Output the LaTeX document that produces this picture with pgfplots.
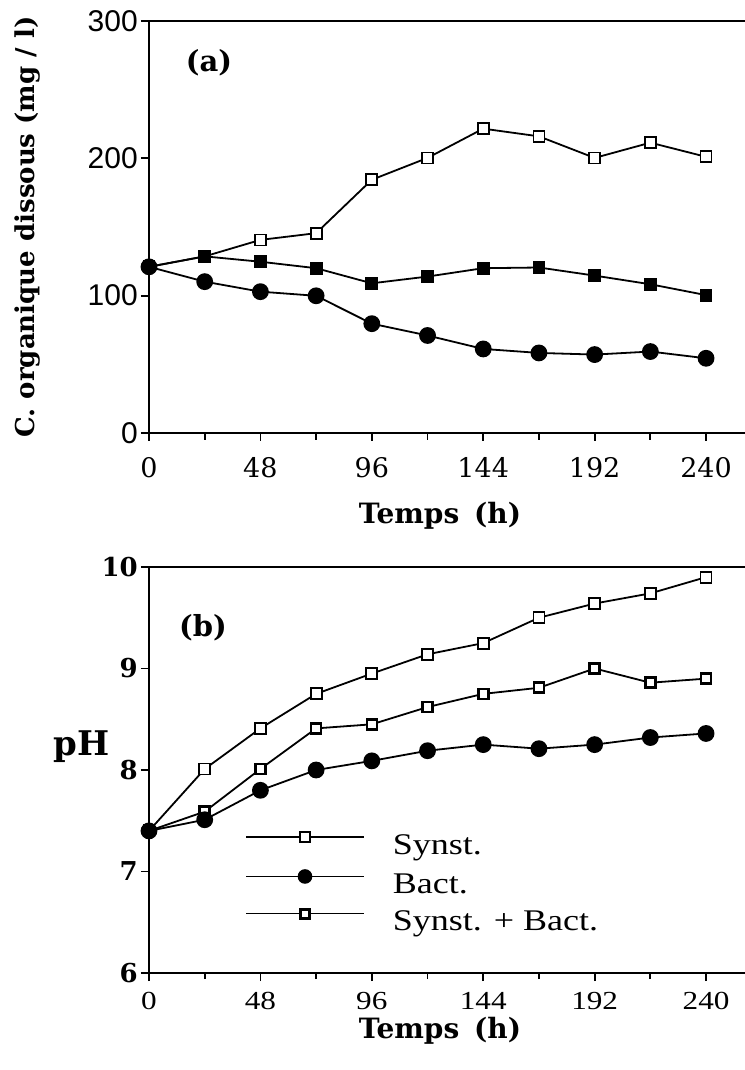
\documentclass[border=0pt]{standalone}
\usepackage{fontspec}
\usepackage{pgfplots}
\pgfplotsset{compat=1.18}
\setmainfont{DejaVu Serif}
\newfontfamily\tim[FakeStretch=1.2]{Liberation Serif}
\newfontfamily\hel{Liberation Sans}
\newcommand\fs[1]{\fontsize{#1}{#1}\selectfont}

\pgfplotsset{
  base/.style={
    scale only axis, width=600pt, xmin=0, xmax=258.5,
    xtick={0,48,...,240}, minor xtick={24,72,...,216},
    xtick pos=bottom, ytick pos=left,
    tick align=outside,
    major tick length=8pt, minor tick length=7pt,
    every tick/.append style={black, line width=1.8pt},
    axis line style={line width=2pt},
    clip=false,
    /pgf/number format/assume math mode=true,
    every axis plot/.append style={line width=1.8pt, black},
    legend image code/.code={\draw[mark repeat=2, mark phase=2, yshift=8pt, ##1] plot coordinates {(0pt,0pt) (59pt,0pt) (118pt,0pt)};},
  },
  synst/.style={mark=square*, mark size=5.5pt, mark options={fill=white, solid}},
  bact/.style={mark=*, mark size=7.5pt, mark options={fill=black, solid}},
  sba/.style={mark=square*, mark size=5.5pt, mark options={fill=black, solid}},
  sbb/.style={mark=square*, mark size=5pt, mark options={fill=white, line width=2.6pt, solid}},
}

\begin{document}
\begin{tikzpicture}
\useasboundingbox (0,0) rectangle (744pt,1070pt);

% ---------------- panel (a)
\begin{axis}[base, at={(149pt,637pt)}, anchor=south west, height=412pt,
  ymin=0, ymax=300, ytick={0,100,200,300},
  yticklabel style={font=\hel\fs{30}, inner sep=3pt},
  xticklabel style={font=\fs{27}, inner sep=3pt, yshift=-13pt},
  xlabel={Temps\hspace{15pt}(h)},
  xlabel style={font=\bfseries\fs{28}, at={(axis description cs:0.485,-0.2)}, anchor=center},
  ylabel={C. organique dissous (mg / l)},
  ylabel style={font=\bfseries\fs{26}, at={(axis description cs:-0.2017,0.5)}, anchor=center},
]
\addplot[synst] coordinates {(0,121) (24,128.6) (48,140.6) (72,145.5) (96,184.4) (120,200.3) (144,221.6) (168,216) (192,200.3) (216,211.4) (240,201.1)};
\addplot[sba] coordinates {(0,121) (24,128.6) (48,124.7) (72,120) (96,109) (120,113.9) (144,120) (168,120.5) (192,114.6) (216,108.3) (240,100.4)};
\addplot[bact] coordinates {(0,121) (24,110.2) (48,102.9) (72,99.9) (96,79.6) (120,71) (144,61.2) (168,58.3) (192,57.1) (216,59.3) (240,54.4)};
\node[font=\bfseries\fs{29}] at (axis description cs:0.1,0.898) {(a)};
\end{axis}

% ---------------- panel (b)
\begin{axis}[base, at={(149pt,97pt)}, anchor=south west, height=406pt,
  ymin=6, ymax=10, ytick={6,7,8,9,10},
  minor tick length=6pt,
  yticklabel style={font=\bfseries\fs{26}, inner sep=3pt},
  xticklabel style={font=\tim\fs{26}, inner sep=3pt, yshift=-8pt},
  xlabel={Temps\hspace{15pt}(h)},
  xlabel style={font=\bfseries\fs{28}, at={(axis description cs:0.485,-0.142)}, anchor=center},
  ylabel={pH},
  ylabel style={rotate=-90, font=\bfseries\fs{34}, at={(axis description cs:-0.113,0.557)}, anchor=center},
  legend style={at={(axis description cs:0.155,0.352)}, anchor=north west, draw=none, fill=none,
    font=\tim\fs{30}, row sep=12pt, cells={anchor=west},
    /tikz/every odd column/.append style={column sep=26pt}},
]
\addplot[synst, forget plot] coordinates {(0,7.4) (24,8.01) (48,8.41) (72,8.75) (96,8.95) (120,9.14) (144,9.25) (168,9.5) (192,9.64) (216,9.74) (240,9.9)};
\addplot[sbb, forget plot] coordinates {(0,7.4) (24,7.59) (48,8.01) (72,8.41) (96,8.45) (120,8.62) (144,8.75) (168,8.81) (192,9.0) (216,8.86) (240,8.9)};
\addplot[bact, forget plot] coordinates {(0,7.4) (24,7.51) (48,7.8) (72,8.0) (96,8.09) (120,8.19) (144,8.25) (168,8.21) (192,8.25) (216,8.32) (240,8.36)};
\addlegendimage{black, line width=1.6pt, mark=square*, mark size=5pt, mark options={fill=white, line width=1.8pt}}
\addlegendentry{Synst.}
\addlegendimage{black, line width=1.6pt, mark=*, mark size=6.5pt, mark options={fill=black}}
\addlegendentry{Bact.}
\addlegendimage{black, line width=1.2pt, mark=square*, mark size=4.5pt, mark options={fill=white, line width=2.6pt}}
\addlegendentry{Synst. + Bact.}
\node[font=\bfseries\fs{29}] at (axis description cs:0.09,0.85) {(b)};
\end{axis}
\end{tikzpicture}
\end{document}
